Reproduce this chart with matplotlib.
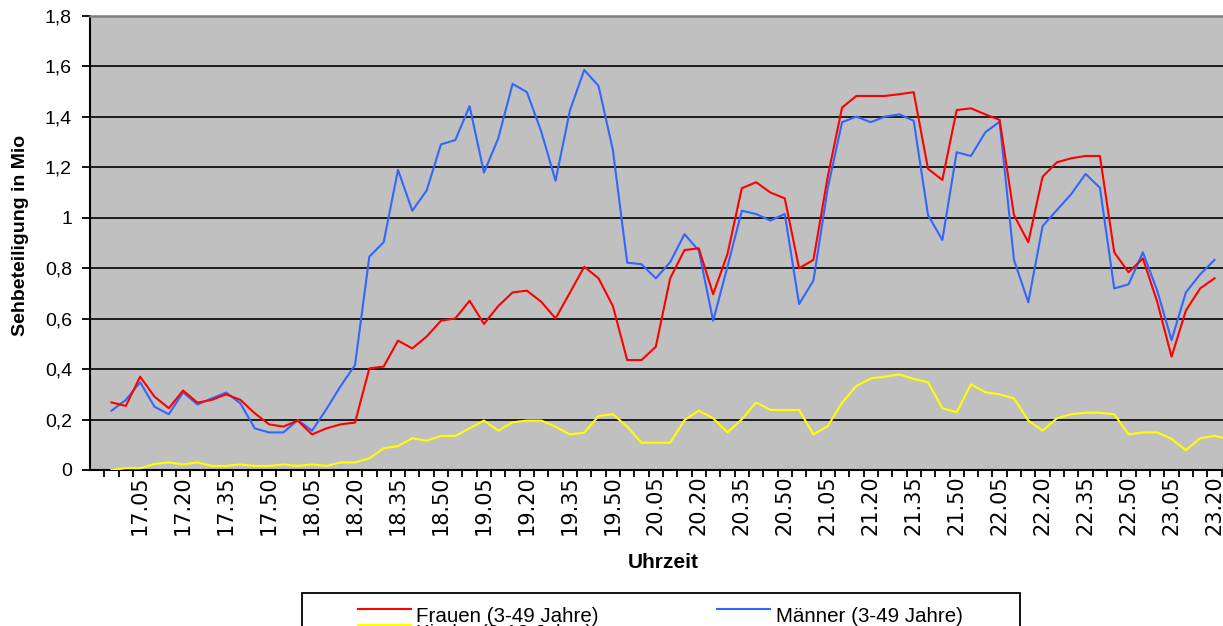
import matplotlib
matplotlib.use("Agg")
import matplotlib.pyplot as plt
from matplotlib.lines import Line2D
from matplotlib.patches import Rectangle
from matplotlib.ticker import FixedLocator, FuncFormatter

plt.rcParams['font.family'] = ['Liberation Sans', 'DejaVu Sans']

# Uhrzeiten (5-Minuten-Takt)
zeiten = ["16.55",
          "17.00", "17.05", "17.10", "17.15", "17.20", "17.25", "17.30", "17.35", "17.40", "17.45", "17.50", "17.55",
          "18.00", "18.05", "18.10", "18.15", "18.20", "18.25", "18.30", "18.35", "18.40", "18.45", "18.50", "18.55",
          "19.00", "19.05", "19.10", "19.15", "19.20", "19.25", "19.30", "19.35", "19.40", "19.45", "19.50", "19.55",
          "20.00", "20.05", "20.10", "20.15", "20.20", "20.25", "20.30", "20.35", "20.40", "20.45", "20.50", "20.55",
          "21.00", "21.05", "21.10", "21.15", "21.20", "21.25", "21.30", "21.35", "21.40", "21.45", "21.50", "21.55",
          "22.00", "22.05", "22.10", "22.15", "22.20", "22.25", "22.30", "22.35", "22.40", "22.45", "22.50", "22.55",
          "23.00", "23.05", "23.10", "23.15", "23.20", "23.25"]

# Sehbeteiligung in Mio
frauen = [0.268, 0.254, 0.370, 0.291, 0.245, 0.315, 0.267, 0.278, 0.300, 0.278,
          0.225, 0.181, 0.172, 0.196, 0.141, 0.165, 0.181, 0.188, 0.403, 0.410,
          0.513, 0.482, 0.529, 0.592, 0.601, 0.671, 0.579, 0.650, 0.704, 0.711,
          0.667, 0.601, 0.703, 0.806, 0.760, 0.650, 0.436, 0.436, 0.489, 0.760,
          0.872, 0.879, 0.697, 0.856, 1.117, 1.141, 1.100, 1.077, 0.800, 0.833,
          1.163, 1.437, 1.483, 1.483, 1.483, 1.490, 1.498, 1.194, 1.150, 1.427,
          1.434, 1.410, 1.388, 1.011, 0.903, 1.163, 1.220, 1.236, 1.245, 1.245,
          0.863, 0.784, 0.839, 0.667, 0.449, 0.632, 0.720, 0.760]

maenner = [0.235, 0.278, 0.348, 0.251, 0.221, 0.308, 0.260, 0.284, 0.307, 0.264,
           0.165, 0.149, 0.149, 0.198, 0.156, 0.241, 0.333, 0.416, 0.846, 0.903,
           1.190, 1.028, 1.108, 1.291, 1.308, 1.443, 1.179, 1.315, 1.531, 1.498,
           1.342, 1.147, 1.425, 1.586, 1.523, 1.269, 0.822, 0.816, 0.760, 0.824,
           0.935, 0.870, 0.592, 0.806, 1.028, 1.015, 0.989, 1.015, 0.658, 0.751,
           1.117, 1.379, 1.401, 1.379, 1.401, 1.410, 1.385, 1.011, 0.912, 1.260,
           1.245, 1.339, 1.381, 0.833, 0.665, 0.967, 1.031, 1.094, 1.174, 1.119,
           0.720, 0.736, 0.863, 0.711, 0.515, 0.704, 0.776, 0.833]

kinder = [0.000, 0.007, 0.007, 0.024, 0.030, 0.022, 0.030, 0.016, 0.016, 0.022,
          0.016, 0.016, 0.022, 0.016, 0.022, 0.016, 0.030, 0.030, 0.046, 0.086,
          0.095, 0.126, 0.116, 0.135, 0.135, 0.165, 0.196, 0.156, 0.189, 0.196,
          0.196, 0.172, 0.141, 0.148, 0.214, 0.221, 0.172, 0.108, 0.108, 0.108,
          0.198, 0.235, 0.205, 0.149, 0.201, 0.268, 0.238, 0.238, 0.238, 0.141,
          0.174, 0.267, 0.333, 0.363, 0.370, 0.379, 0.361, 0.348, 0.245, 0.229,
          0.340, 0.308, 0.300, 0.284, 0.196, 0.156, 0.205, 0.221, 0.227, 0.227,
          0.221, 0.141, 0.149, 0.149, 0.123, 0.079, 0.126, 0.135, 0.123]

serien = ["Frauen (3-49 Jahre)", "Männer (3-49 Jahre)", "Kinder (3-13 Jahre)"]
farben = ["#ff0000", "#3366ff", "#ffff00"]

W, H = 1223, 626
fig = plt.figure(figsize=(W / 100, H / 100), dpi=100)

# plot area (right part runs past the image edge, like the cropped original)
ax = fig.add_axes([90 / W, (H - 470) / H, (1236 - 90) / W, (470 - 16) / H])
ax.set_facecolor("#c0c0c0")

x_fm = list(range(len(frauen)))
x_k = list(range(len(kinder)))
ax.plot(x_k, kinder, color=farben[2], lw=1.5, zorder=3)
ax.plot(x_fm, maenner, color=farben[1], lw=1.5, zorder=4)
ax.plot(x_fm, frauen, color=farben[0], lw=1.5, zorder=5)

ax.set_xlim(-1.5, 78.5)
ax.set_ylim(0, 1.8)

yt = [0, 0.2, 0.4, 0.6, 0.8, 1.0, 1.2, 1.4, 1.6, 1.8]
ax.set_yticks(yt)
ax.yaxis.set_major_formatter(FuncFormatter(lambda v, p: f"{v:g}".replace(".", ",")))
ax.yaxis.grid(True, color="black", lw=1.2)
ax.set_axisbelow(True)
ax.tick_params(axis="y", direction="out", length=6, width=1.3, pad=7, labelsize=14)

ax.set_xticks(x_fm[2::3])
ax.set_xticklabels(zeiten[2::3], rotation=90, family=["Liberation Sans Narrow", "DejaVu Sans"],
                   fontsize=15)
ax.xaxis.set_minor_locator(FixedLocator([i - 0.5 for i in x_k] + [78.5]))
ax.tick_params(axis="x", which="major", length=0, pad=4)
ax.tick_params(axis="x", which="minor", direction="out", length=5, width=1.3)

for s in ["left", "bottom"]:
    ax.spines[s].set_linewidth(1.5)
    ax.spines[s].set_color("black")
ax.spines["top"].set_color("#808080")
ax.spines["top"].set_linewidth(1.8)
ax.spines["right"].set_visible(False)

fig.text(21 / W, 1 - 235 / H, "Sehbeteiligung in Mio", rotation=90, ha="center", va="center",
         fontsize=14, fontweight="bold")
fig.text(663 / W, 1 - 562 / H, "Uhrzeit", ha="center", va="center", fontsize=15, fontweight="bold")

# legend box (cut off at the bottom in the original)
fig.add_artist(Rectangle((301.5 / W, -0.05), (1020 - 301.5) / W, 0.05 + 1 - 592.5 / H,
                         transform=fig.transFigure, facecolor="white", edgecolor="black", lw=1.3))
eintraege = [(357.5, 608.5, 416, 622, 0), (717, 608.5, 776, 622, 1), (357.5, 625, 416, 639, 2)]
for lx, ly, tx, ty, k in eintraege:
    fig.add_artist(Line2D([lx / W, (lx + 53) / W], [1 - ly / H, 1 - ly / H],
                          transform=fig.transFigure, color=farben[k], lw=1.5))
    fig.text(tx / W, 1 - ty / H, serien[k], ha="left", va="baseline", fontsize=14.8)

fig.savefig("out.png", dpi=100)
